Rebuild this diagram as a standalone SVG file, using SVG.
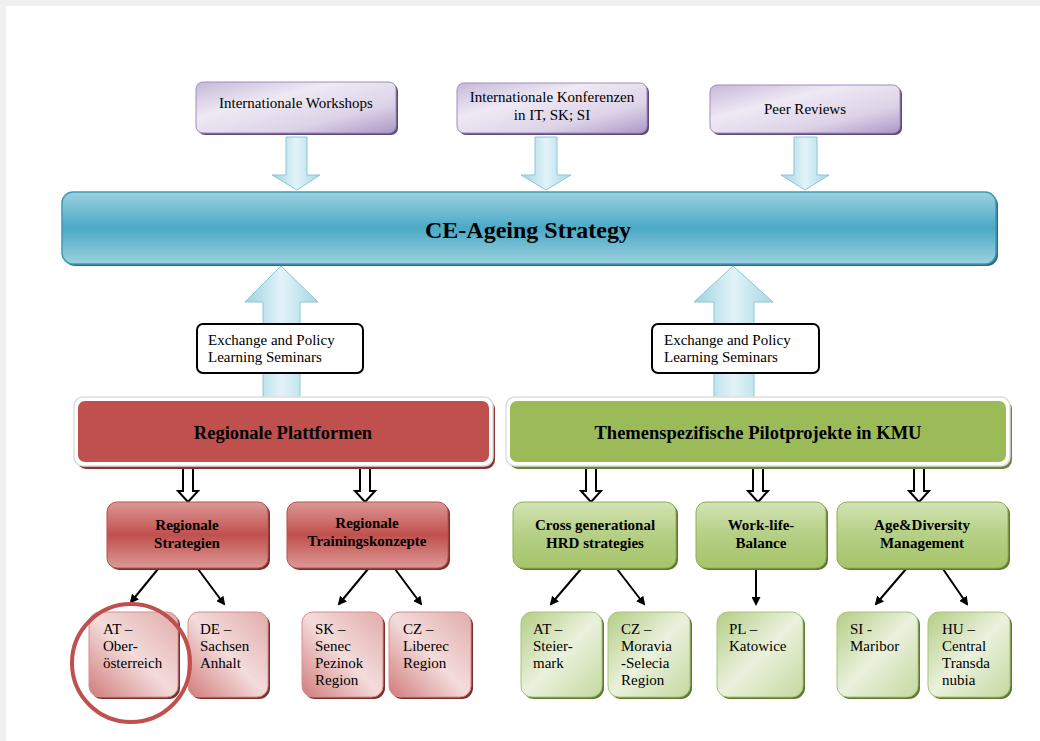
<svg xmlns="http://www.w3.org/2000/svg" width="1040" height="741" viewBox="0 0 1040 741">
<defs>
<linearGradient id="gPurple" x1="0" y1="0" x2="1" y2="1">
<stop offset="0" stop-color="#c6b8d9"/><stop offset="0.35" stop-color="#eee9f4"/><stop offset="0.7" stop-color="#ddd3e8"/><stop offset="1" stop-color="#ac98c6"/>
</linearGradient>
<linearGradient id="gBlue" x1="0" y1="0" x2="0" y2="1">
<stop offset="0" stop-color="#9dd1e0"/><stop offset="0.5" stop-color="#4aa9c5"/><stop offset="1" stop-color="#9dd1e0"/>
</linearGradient>
<linearGradient id="gArrow" x1="0" y1="0" x2="1" y2="0">
<stop offset="0" stop-color="#9fd3e1"/><stop offset="0.5" stop-color="#e2f3f8"/><stop offset="1" stop-color="#a7d7e4"/>
</linearGradient>
<linearGradient id="gRedSub" x1="0" y1="0" x2="0" y2="1">
<stop offset="0" stop-color="#dc9896"/><stop offset="0.5" stop-color="#c0504d"/><stop offset="1" stop-color="#dc9896"/>
</linearGradient>
<linearGradient id="gGreenSub" x1="0" y1="0" x2="0" y2="1">
<stop offset="0" stop-color="#d2e3b3"/><stop offset="0.5" stop-color="#b5cf85"/><stop offset="1" stop-color="#a6c46a"/>
</linearGradient>
<linearGradient id="gRedLeaf" x1="0" y1="1" x2="1" y2="0">
<stop offset="0" stop-color="#d07c7a"/><stop offset="0.5" stop-color="#f3dcdb"/><stop offset="1" stop-color="#e1acab"/>
</linearGradient>
<linearGradient id="gGreenLeaf" x1="0" y1="0" x2="1" y2="1">
<stop offset="0" stop-color="#b4cd85"/><stop offset="0.5" stop-color="#eaf1dd"/><stop offset="1" stop-color="#c4d9a0"/>
</linearGradient>
<marker id="ah" markerWidth="9" markerHeight="9" refX="7" refY="4.5" orient="auto" markerUnits="userSpaceOnUse">
<path d="M0,0 L9,4.5 L0,9 Z" fill="#000"/>
</marker>
<style>
text{font-family:"Liberation Serif","Times New Roman",serif;fill:#000}
.t14{font-size:15px}
.b14{font-size:15px;font-weight:bold}
.b17{font-size:18.5px;font-weight:bold}
.b22{font-size:24px;font-weight:bold}
.mid{text-anchor:middle}
.purple{fill:url(#gPurple);stroke:#a08cbc;stroke-width:1}
.pshadow{fill:#5e4a7a}
.barr{fill:url(#gArrow);stroke:#8cc6d6;stroke-width:1}
.harr{fill:#fff;stroke:#000;stroke-width:2}
.redsub{fill:url(#gRedSub);stroke:#b8504d;stroke-width:1}
.rshadow{fill:#7a2f2d}
.greensub{fill:url(#gGreenSub);stroke:#8fae55;stroke-width:1}
.gshadow{fill:#5f7a30}
.redleaf{fill:url(#gRedLeaf);stroke:#d48f8d;stroke-width:1}
.greenleaf{fill:url(#gGreenLeaf);stroke:#a9c37a;stroke-width:1}
.conn line{stroke:#000;stroke-width:2;marker-end:url(#ah)}
</style>
</defs>
<rect x="0" y="0" width="1040" height="741" fill="#f0f0f0"/>
<rect x="6" y="6" width="1034" height="735" fill="#fff"/>

<!-- block arrows -->
<g id="connectors">
<path class="barr" d="M286,137 H307 V175 H320 L297,190 L272,175 H286 Z"/>
<path class="barr" d="M535,137 H557 V175 H571 L546,190 L521,175 H535 Z"/>
<path class="barr" d="M794,137 H817 V175 H829 L805,190 L781,175 H794 Z"/>
<path class="barr" d="M263,400 V302 H245 L281,266 L318,302 H300 V400 Z"/>
<path class="barr" d="M714,400 V302 H694 L733,266 L773,302 H754 V400 Z"/>
<path class="harr" d="M183,464 H193 V491 H198 L188,502 L178,491 H183 Z"/>
<path class="harr" d="M360,464 H370 V491 H375 L365,502 L355,491 H360 Z"/>
<path class="harr" d="M586,464 H596 V491 H601 L591,502 L581,491 H586 Z"/>
<path class="harr" d="M753,464 H763 V491 H768 L758,502 L748,491 H753 Z"/>
<path class="harr" d="M914,464 H924 V491 H929 L919,502 L909,491 H914 Z"/>
<g class="conn">
<line x1="158" y1="569" x2="131" y2="602"/>
<line x1="198" y1="569" x2="224" y2="604"/>
<line x1="368" y1="569" x2="339" y2="604"/>
<line x1="395" y1="569" x2="421" y2="604"/>
<line x1="581" y1="569" x2="551" y2="604"/>
<line x1="617" y1="569" x2="644" y2="604"/>
<line x1="756" y1="569" x2="756" y2="604"/>
<line x1="906" y1="569" x2="876" y2="604"/>
<line x1="943" y1="569" x2="967" y2="604"/>
</g>
</g>

<!-- top boxes -->
<g id="workshops">
<rect class="pshadow" x="198" y="84" width="200" height="51" rx="7"/>
<rect class="purple" x="196" y="82" width="200" height="51" rx="7"/>
<text class="t14 mid" x="296" y="108">Internationale Workshops</text>
</g>
<g id="konferenzen">
<rect class="pshadow" x="459" y="85" width="190" height="50" rx="7"/>
<rect class="purple" x="457" y="83" width="190" height="50" rx="7"/>
<text class="t14 mid" x="552" y="102">Internationale Konferenzen</text>
<text class="t14 mid" x="552" y="120">in IT, SK; SI</text>
</g>
<g id="peer">
<rect class="pshadow" x="712" y="87" width="190" height="48" rx="7"/>
<rect class="purple" x="710" y="85" width="190" height="48" rx="7"/>
<text class="t14 mid" x="805" y="114">Peer Reviews</text>
</g>

<!-- central bar -->
<g id="ce-ageing">
<rect x="64" y="194" width="934" height="72" rx="11" fill="#2d6c7e"/>
<rect x="62" y="192" width="934" height="72" rx="11" fill="url(#gBlue)" stroke="#3d9ab5" stroke-width="1.5"/>
<text class="b22 mid" x="528" y="238">CE-Ageing Strategy</text>
</g>

<!-- exchange labels -->
<g id="exchange-left">
<rect x="197" y="324" width="166" height="49" rx="6" fill="#fff" stroke="#000" stroke-width="2"/>
<text class="t14" x="208" y="345">Exchange and Policy</text>
<text class="t14" x="208" y="362">Learning Seminars</text>
</g>
<g id="exchange-right">
<rect x="652" y="324" width="167" height="49" rx="6" fill="#fff" stroke="#000" stroke-width="2"/>
<text class="t14" x="664" y="345">Exchange and Policy</text>
<text class="t14" x="664" y="362">Learning Seminars</text>
</g>

<!-- main bars -->
<g id="regionale-plattformen">
<rect x="77" y="400" width="418" height="69" rx="9" fill="#8a3533"/>
<rect x="74" y="397" width="419" height="69" rx="9" fill="#fff" stroke="#dddddd" stroke-width="1.5"/>
<rect x="78" y="401" width="411" height="61" rx="7" fill="#c0504d"/>
<text class="b17 mid" x="283" y="439">Regionale Plattformen</text>
</g>
<g id="themenspezifische">
<rect x="509" y="400" width="503" height="69" rx="9" fill="#6b8534"/>
<rect x="506" y="397" width="504" height="69" rx="9" fill="#fff" stroke="#dddddd" stroke-width="1.5"/>
<rect x="510" y="401" width="496" height="61" rx="7" fill="#9bbb59"/>
<text class="b17 mid" x="758" y="439">Themenspezifische Pilotprojekte in KMU</text>
</g>

<!-- sub boxes -->
<g id="reg-strategien">
<rect class="rshadow" x="109" y="504" width="161" height="66" rx="10"/>
<rect class="redsub" x="107" y="502" width="161" height="66" rx="10"/>
<text class="b14 mid" x="187" y="530">Regionale</text>
<text class="b14 mid" x="187" y="548">Strategien</text>
</g>
<g id="reg-training">
<rect class="rshadow" x="289" y="504" width="161" height="66" rx="10"/>
<rect class="redsub" x="287" y="502" width="161" height="66" rx="10"/>
<text class="b14 mid" x="367" y="528">Regionale</text>
<text class="b14 mid" x="367" y="546">Trainingskonzepte</text>
</g>
<g id="cross-gen">
<rect class="gshadow" x="515" y="504" width="163" height="66" rx="10"/>
<rect class="greensub" x="513" y="502" width="163" height="66" rx="10"/>
<text class="b14 mid" x="595" y="530">Cross generational</text>
<text class="b14 mid" x="595" y="548">HRD strategies</text>
</g>
<g id="work-life">
<rect class="gshadow" x="698" y="504" width="130" height="66" rx="10"/>
<rect class="greensub" x="696" y="502" width="130" height="66" rx="10"/>
<text class="b14 mid" x="761" y="530">Work-life-</text>
<text class="b14 mid" x="761" y="548">Balance</text>
</g>
<g id="age-diversity">
<rect class="gshadow" x="839" y="504" width="171" height="66" rx="10"/>
<rect class="greensub" x="837" y="502" width="171" height="66" rx="10"/>
<text class="b14 mid" x="922" y="530">Age&amp;Diversity</text>
<text class="b14 mid" x="922" y="548">Management</text>
</g>

<!-- leaves -->
<g id="at-ooe">
<rect class="rshadow" x="91" y="614" width="89" height="85" rx="11"/>
<rect class="redleaf" x="89" y="612" width="89" height="85" rx="11"/>
<text class="t14" x="103" y="634">AT –</text>
<text class="t14" x="103" y="651">Ober-</text>
<text class="t14" x="103" y="668">österreich</text>
</g>
<g id="de-sachsen">
<rect class="rshadow" x="190" y="614" width="80" height="85" rx="11"/>
<rect class="redleaf" x="188" y="612" width="80" height="85" rx="11"/>
<text class="t14" x="200" y="634">DE –</text>
<text class="t14" x="200" y="651">Sachsen</text>
<text class="t14" x="200" y="668">Anhalt</text>
</g>
<g id="sk-senec">
<rect class="rshadow" x="304" y="614" width="81" height="85" rx="11"/>
<rect class="redleaf" x="302" y="612" width="81" height="85" rx="11"/>
<text class="t14" x="315" y="634">SK –</text>
<text class="t14" x="315" y="651">Senec</text>
<text class="t14" x="315" y="668">Pezinok</text>
<text class="t14" x="315" y="685">Region</text>
</g>
<g id="cz-liberec">
<rect class="rshadow" x="391" y="614" width="82" height="85" rx="11"/>
<rect class="redleaf" x="389" y="612" width="82" height="85" rx="11"/>
<text class="t14" x="403" y="634">CZ –</text>
<text class="t14" x="403" y="651">Liberec</text>
<text class="t14" x="403" y="668">Region</text>
</g>
<g id="at-steiermark">
<rect class="gshadow" x="523" y="614" width="81" height="85" rx="11"/>
<rect class="greenleaf" x="521" y="612" width="81" height="85" rx="11"/>
<text class="t14" x="533" y="634">AT –</text>
<text class="t14" x="533" y="651">Steier-</text>
<text class="t14" x="533" y="668">mark</text>
</g>
<g id="cz-moravia">
<rect class="gshadow" x="610" y="614" width="82" height="85" rx="11"/>
<rect class="greenleaf" x="608" y="612" width="82" height="85" rx="11"/>
<text class="t14" x="621" y="634">CZ –</text>
<text class="t14" x="621" y="651">Moravia</text>
<text class="t14" x="621" y="668">-Selecia</text>
<text class="t14" x="621" y="685">Region</text>
</g>
<g id="pl-katowice">
<rect class="gshadow" x="719" y="614" width="86" height="85" rx="11"/>
<rect class="greenleaf" x="717" y="612" width="86" height="85" rx="11"/>
<text class="t14" x="729" y="634">PL –</text>
<text class="t14" x="729" y="651">Katowice</text>
</g>
<g id="si-maribor">
<rect class="gshadow" x="839" y="614" width="81" height="85" rx="11"/>
<rect class="greenleaf" x="837" y="612" width="81" height="85" rx="11"/>
<text class="t14" x="850" y="634">SI -</text>
<text class="t14" x="850" y="651">Maribor</text>
</g>
<g id="hu-central">
<rect class="gshadow" x="930" y="614" width="82" height="85" rx="11"/>
<rect class="greenleaf" x="928" y="612" width="82" height="85" rx="11"/>
<text class="t14" x="942" y="634">HU –</text>
<text class="t14" x="942" y="651">Central</text>
<text class="t14" x="942" y="668">Transda</text>
<text class="t14" x="942" y="685">nubia</text>
</g>

<g id="highlight">
<circle cx="131" cy="663" r="59" fill="none" stroke="#c0504d" stroke-width="4"/>
</g>
</svg>
